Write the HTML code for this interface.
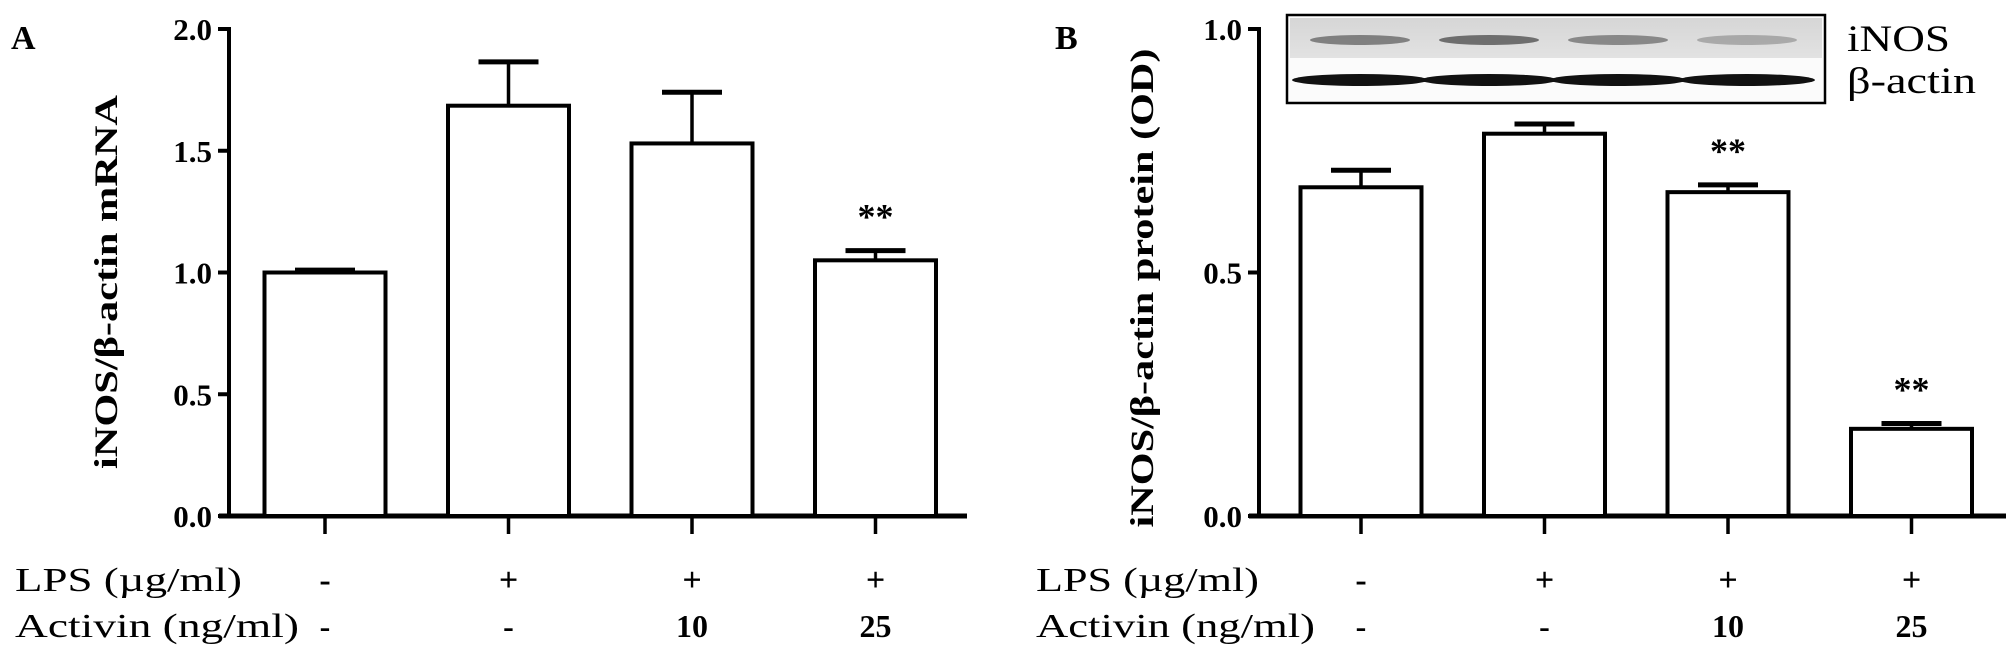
<!DOCTYPE html>
<html><head><meta charset="utf-8">
<style>
body{margin:0;background:#fff;}
svg{display:block;font-family:"Liberation Serif",serif;}
</style></head>
<body>
<svg id="chart" width="2008" height="659" viewBox="0 0 2008 659" xmlns="http://www.w3.org/2000/svg">
<defs>
<linearGradient id="bandg" x1="0" y1="0" x2="0" y2="1">
<stop offset="0" stop-color="#d6d6d6"/><stop offset="1" stop-color="#e2e2e2"/>
</linearGradient>
</defs>
<g id="panelA"></g>
<g id="panelB"></g>
</svg>
<script>
const categories = ["ctrl","LPS","LPS+Act10","LPS+Act25"];
const lpsLabels = ["-","+","+","+"];
const activinLabels = ["-","-","10","25"];
const valuesA = [1.0, 1.685, 1.53, 1.05];
const errorsA = [0.01, 0.18, 0.21, 0.04];
const sigA = ["", "", "", "**"];
const ticksA = [0, 0.5, 1.0, 1.5, 2.0];
const tickLabelsA = ["0.0","0.5","1.0","1.5","2.0"];
const valuesB = [0.675, 0.785, 0.665, 0.179];
const errorsB = [0.035, 0.02, 0.015, 0.011];
const sigB = ["", "", "**", "**"];
const ticksB = [0, 0.5, 1.0];
const tickLabelsB = ["0.0","0.5","1.0"];
const bandIntensity = [0.55, 0.65, 0.5, 0.3];

const NS = "http://www.w3.org/2000/svg";
function mk(parent, tag, attrs, text){
  const e = document.createElementNS(NS, tag);
  for (const k in attrs) e.setAttribute(k, attrs[k]);
  if (text !== undefined) e.textContent = text;
  parent.appendChild(e);
  return e;
}

function drawPanel(g, cfg){
  const y = v => cfg.y0 - v / cfg.vmax * (cfg.y0 - cfg.yTop);
  const xc = i => cfg.firstX + i * cfg.spacing;

  const letter = mk(g, "text", {x: cfg.letterX, y: 49, "font-size": 34, "font-weight": "bold"}, cfg.letter);
  
  

  const yt = mk(g, "text", {x: cfg.titleX, y: cfg.titleY, "font-size": 33, "font-weight": "bold", "text-anchor": "middle", textLength: cfg.titleLen, lengthAdjust: "spacingAndGlyphs", transform: `rotate(-90 ${cfg.titleX} ${cfg.titleY})`}, cfg.title);
  
  

  const ax = mk(g, "line", {x1: cfg.xStart, y1: cfg.yTop - 2, x2: cfg.xStart, y2: cfg.y0 + 2, stroke: "#000", "stroke-width": 4});
  
  
  const xa = mk(g, "line", {x1: cfg.xStart - 10, y1: cfg.y0, x2: cfg.xEnd, y2: cfg.y0, stroke: "#000", "stroke-width": 5});
  
  

  cfg.ticks.forEach((t, i) => {
    const tk = mk(g, "line", {x1: cfg.xStart - 11, y1: y(t), x2: cfg.xStart, y2: y(t), stroke: "#000", "stroke-width": 4});
    
    
    const tl = mk(g, "text", {x: cfg.xStart - 17, y: y(t) + 11, "font-size": 31, "font-weight": "bold", "text-anchor": "end"}, cfg.tickLabels[i]);
    
    
  });

  categories.forEach((c, i) => {
    const cx = xc(i), hw = cfg.barW / 2;
    const v = cfg.values[i], e = cfg.errors[i];
    const eb = mk(g, "line", {x1: cx, y1: y(v), x2: cx, y2: y(v + e), stroke: "#000", "stroke-width": 3.5});
    
    
    const cap = mk(g, "line", {x1: cx - cfg.capW / 2, y1: y(v + e), x2: cx + cfg.capW / 2, y2: y(v + e), stroke: "#000", "stroke-width": 5});
    
    
    const bar = mk(g, "rect", {x: cx - hw, y: y(v), width: cfg.barW, height: cfg.y0 - y(v), fill: "#fff", stroke: "#000", "stroke-width": 4});
    
    
    if (cfg.sig[i]) {
      const s = mk(g, "text", {x: cx, y: y(v + e) - 22, "font-size": 36, "font-weight": "bold", "text-anchor": "middle"}, cfg.sig[i]);
      
      
    }
    const xt = mk(g, "line", {x1: cx, y1: cfg.y0 + 2, x2: cx, y2: cfg.y0 + 18, stroke: "#000", "stroke-width": 3.5});
    
    
    const l1 = mk(g, "text", {x: cx, y: 591, "font-size": 34, "font-weight": "bold", "text-anchor": "middle"}, lpsLabels[i]);
    
    
    const l2 = mk(g, "text", {x: cx, y: 637, "font-size": 32, "font-weight": "bold", "text-anchor": "middle"}, activinLabels[i]);
    
    
  });

  const r1 = mk(g, "text", {x: cfg.rowX, y: 591, "font-size": 34, textLength: cfg.lpsLen, lengthAdjust: "spacingAndGlyphs"}, "LPS (µg/ml)");
  
  
  const r2 = mk(g, "text", {x: cfg.rowX, y: 637, "font-size": 34, textLength: cfg.actLen, lengthAdjust: "spacingAndGlyphs"}, "Activin (ng/ml)");
  
  
}

drawPanel(document.getElementById("panelA"), {
  letter: "A", letterX: 11, title: "iNOS/β-actin mRNA", titleX: 117, titleY: 282, titleLen: 374,
  xStart: 229, xEnd: 967, yTop: 29, y0: 516, vmax: 2.0,
  firstX: 325, spacing: 183.5, barW: 121, capW: 60,
  values: valuesA, errors: errorsA, sig: sigA, ticks: ticksA, tickLabels: tickLabelsA,
  rowX: 15, lpsLen: 227, actLen: 284
});
drawPanel(document.getElementById("panelB"), {
  letter: "B", letterX: 1055, title: "iNOS/β-actin protein (OD)", titleX: 1153, titleY: 288, titleLen: 479,
  xStart: 1259, xEnd: 2006, yTop: 29, y0: 516, vmax: 1.0,
  firstX: 1361, spacing: 183.5, barW: 121, capW: 60,
  values: valuesB, errors: errorsB, sig: sigB, ticks: ticksB, tickLabels: tickLabelsB,
  rowX: 1036, lpsLen: 223, actLen: 279
});

const pb = document.getElementById("panelB");
const blot = mk(pb, "g", {});


mk(blot, "rect", {x: 1287, y: 15, width: 538, height: 88, fill: "#fbfbfb", stroke: "#000", "stroke-width": 2.5});
mk(blot, "rect", {x: 1290, y: 18, width: 532, height: 40, fill: "url(#bandg)"});
bandIntensity.forEach((b, i) => {
  const cx = 1360 + i * 129;
  const band = mk(blot, "ellipse", {cx: cx, cy: 40, rx: 50, ry: 5, fill: "#333", opacity: b});
  
  
  const ab = mk(blot, "ellipse", {cx: cx, cy: 80, rx: 68, ry: 6, fill: "#111"});
  
  
});
const t1 = mk(pb, "text", {x: 1847, y: 51, "font-size": 37, textLength: 103, lengthAdjust: "spacingAndGlyphs"}, "iNOS");


const t2 = mk(pb, "text", {x: 1847, y: 93, "font-size": 37, textLength: 129, lengthAdjust: "spacingAndGlyphs"}, "β-actin");


</script>
</body></html>
